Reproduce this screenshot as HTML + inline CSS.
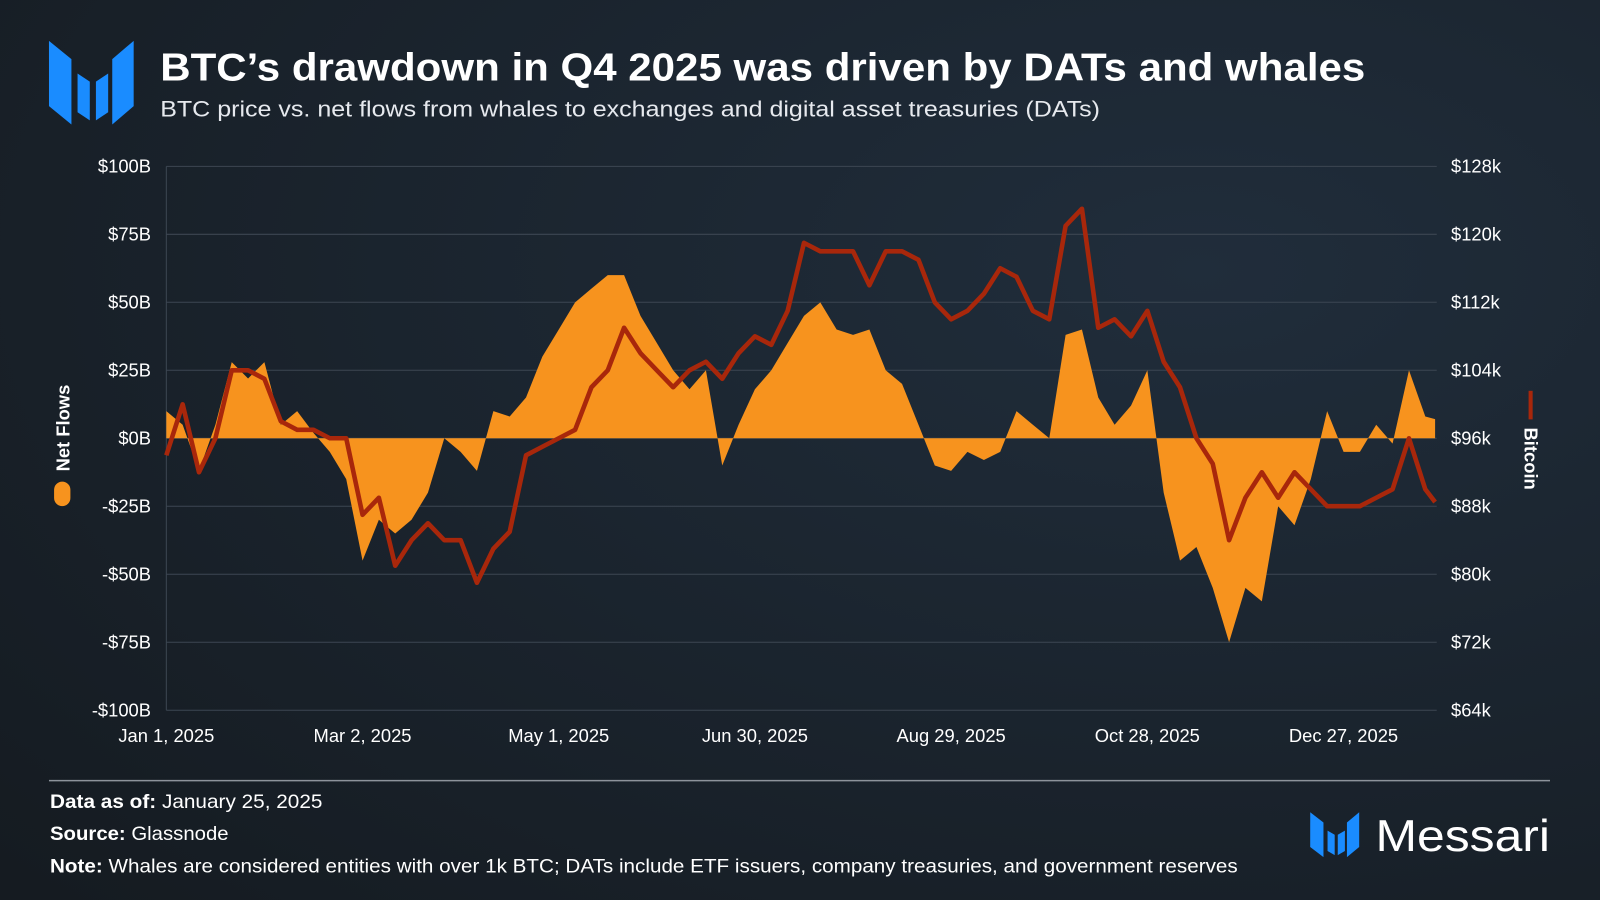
<!DOCTYPE html>
<html><head><meta charset="utf-8"><style>
html,body{margin:0;padding:0;width:1600px;height:900px;overflow:hidden;background:#18202a}
svg{display:block}
text{font-family:"Liberation Sans",sans-serif}
</style></head><body>
<svg id="chart" width="1600" height="900" viewBox="0 0 1568 882" preserveAspectRatio="none">
<defs>
<radialGradient id="bg" cx="0.75" cy="0.3" r="1">
<stop offset="0" stop-color="#202d3b"/><stop offset="1" stop-color="#151b21"/>
</radialGradient>
</defs>
<rect width="1568" height="882" fill="url(#bg)"/>
<g fill="#1a8cff">
<polygon points="48,40 70,58 70,122 48,104"/>
<polygon points="76,72 88,80 88,118 76,110"/>
<polygon points="94,80 106,72 106,110 94,118"/>
<polygon points="110,58 131,40 131,104 110,122"/>
</g>
<text x="157" y="79" font-size="38" font-weight="bold" fill="#ffffff" textLength="1181" lengthAdjust="spacingAndGlyphs">BTC’s drawdown in Q4 2025 was driven by DATs and whales</text>
<text x="157" y="114" font-size="22" fill="#e6e9ee" textLength="921" lengthAdjust="spacingAndGlyphs">BTC price vs. net flows from whales to exchanges and digital asset treasuries (DATs)</text>
<g id="grid"></g>
<g id="axes"></g>
<g id="plot"></g>
<g>
<rect x="53" y="472" width="16" height="24" rx="8" fill="#f7931e"/>
<text transform="translate(68,462) rotate(-90)" font-size="18" font-weight="bold" fill="#ffffff">Net Flows</text>
</g>
<g>
<rect x="1498" y="383" width="4" height="28" fill="#a8270b"/>
<text transform="translate(1494,419) rotate(90)" font-size="18" font-weight="bold" fill="#ffffff">Bitcoin</text>
</g>
<line x1="48" y1="765" x2="1519" y2="765" stroke="#8d939b" stroke-width="1.5"/>
<text x="49" y="792" font-size="19" fill="#ffffff" textLength="267" lengthAdjust="spacingAndGlyphs"><tspan font-weight="bold">Data as of:</tspan> January 25, 2025</text>
<text x="49" y="823" font-size="19" fill="#ffffff" textLength="175" lengthAdjust="spacingAndGlyphs"><tspan font-weight="bold">Source:</tspan> Glassnode</text>
<text x="49" y="855" font-size="19" fill="#ffffff" textLength="1164" lengthAdjust="spacingAndGlyphs"><tspan font-weight="bold">Note:</tspan> Whales are considered entities with over 1k BTC; DATs include ETF issuers, company treasuries, and government reserves</text>
<g>
<g fill="#1a8cff">
<polygon points="1284,796 1297,806 1297,840 1284,830"/>
<polygon points="1301,814 1308,818 1308,838 1301,834"/>
<polygon points="1311,818 1318,814 1318,834 1311,838"/>
<polygon points="1320,806 1332,796 1332,830 1320,840"/>
</g>
<text x="1348" y="834" font-size="44" fill="#ffffff" textLength="171" lengthAdjust="spacingAndGlyphs">Messari</text>
</g>
</svg>
<script>
const dayOffsets=[0,5,10,15,20,25,30,35,40,45,50,55,60,65,70,75,80,85,90,95,100,105,110,115,120,125,130,135,140,145,150,155,160,165,170,175,180,185,190,195,200,205,210,215,220,225,230,235,240,245,250,255,260,265,270,275,280,285,290,295,300,305,310,315,320,325,330,335,340,345,350,355,360,365,370,375,380,385,388];
const netFlows=[10,5,-12,5,28,22,28,5,10,2,-5,-15,-45,-30,-35,-30,-20,0,-5,-12,10,8,15,30,40,50,55,60,60,45,35,25,18,25,-10,5,18,25,35,45,50,40,38,40,25,20,5,-10,-12,-5,-8,-5,10,5,0,38,40,15,5,12,25,-20,-45,-40,-55,-75,-55,-60,-25,-32,-15,10,-5,-5,5,-2,25,8,7];
const btcPrice=[94,100,92,96,104,104,103,98,97,97,96,96,87,89,81,84,86,84,84,79,83,85,94,95,96,97,102,104,109,106,104,102,104,105,103,106,108,107,111,119,118,118,118,114,118,118,117,112,110,111,113,116,115,111,110,121,123,109,110,108,111,105,102,96,93,84,89,92,89,92,90,88,88,88,89,90,96,90,88.5];
const leftTicks=["$100B","$75B","$50B","$25B","$0B","-$25B","-$50B","-$75B","-$100B"];
const leftTickVals=[100,75,50,25,0,-25,-50,-75,-100];
const rightTicks=["$128k","$120k","$112k","$104k","$96k","$88k","$80k","$72k","$64k"];
const rightTickVals=[128,120,112,104,96,88,80,72,64];
const xTicks=["Jan 1, 2025","Mar 2, 2025","May 1, 2025","Jun 30, 2025","Aug 29, 2025","Oct 28, 2025","Dec 27, 2025"];
const xTickDays=[0,60,120,180,240,300,360];

const NS="http://www.w3.org/2000/svg";
const X0=163,X1=1408,Y0=163,Y1=696,DAYS=388.5;
const xs=d=>X0+(X1-X0)*d/DAYS;
const yL=v=>Y0+(100-v)/200*(Y1-Y0);
const yR=v=>Y0+(128-v)/64*(Y1-Y0);
function mk(tag,attrs,parent){const e=document.createElementNS(NS,tag);for(const k in attrs)e.setAttribute(k,attrs[k]);parent.appendChild(e);return e;}
const grid=document.getElementById('grid'),axes=document.getElementById('axes'),plot=document.getElementById('plot');
leftTickVals.forEach((v,i)=>{
  const y=yL(v);
  const g=mk('line',{x1:X0,x2:X1,y1:y,y2:y,stroke:'#3c4652','stroke-width':1},grid);
  
  
  const t=mk('text',{x:148,y:y+6,'text-anchor':'end','font-size':18,fill:'#ffffff'},axes);
  t.textContent=leftTicks[i];
  
  
});
rightTickVals.forEach((v,i)=>{
  const t=mk('text',{x:1422,y:yR(v)+6,'font-size':18,fill:'#ffffff'},axes);
  t.textContent=rightTicks[i];
  
  
});
const la=mk('line',{x1:X0,x2:X0,y1:Y0,y2:Y1,stroke:'#3c4652','stroke-width':1},grid);


xTickDays.forEach((d,i)=>{
  const t=mk('text',{x:xs(d),y:727,'text-anchor':'middle','font-size':18,fill:'#ffffff'},axes);
  t.textContent=xTicks[i];
  
  
});
let dA='M'+xs(dayOffsets[0])+','+yL(0);
dayOffsets.forEach((d,i)=>{dA+=' L'+xs(d).toFixed(1)+','+yL(netFlows[i]).toFixed(1);});
dA+=' L'+xs(dayOffsets[dayOffsets.length-1])+','+yL(0)+' Z';
const area=mk('path',{d:dA,fill:'#f7931e'},plot);


let dL='';
dayOffsets.forEach((d,i)=>{dL+=(i?' L':'M')+xs(d).toFixed(1)+','+yR(btcPrice[i]).toFixed(1);});
const line=mk('path',{d:dL,fill:'none',stroke:'#a8270b','stroke-width':4.5,'stroke-linejoin':'round'},plot);


</script>
</body></html>
